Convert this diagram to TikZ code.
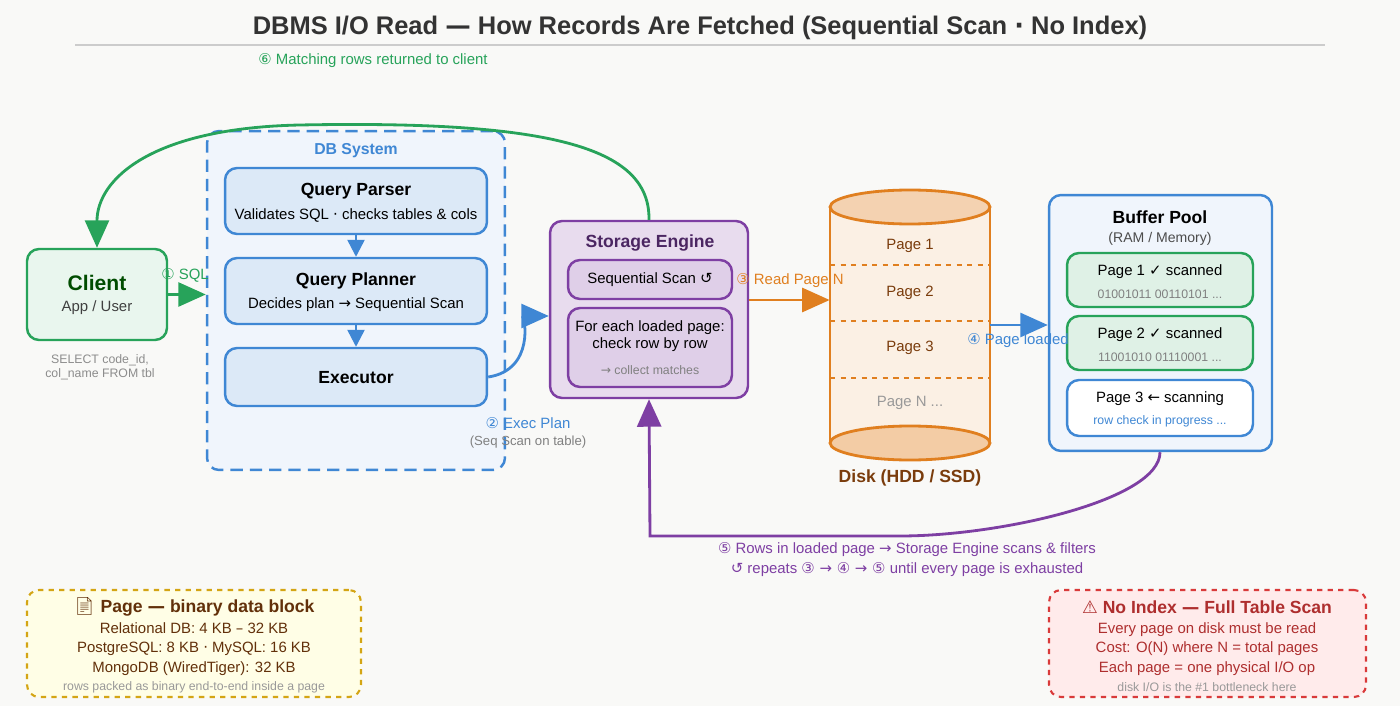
\documentclass[tikz,border=0pt]{standalone}
\usepackage{fontspec}
\setmainfont{Liberation Sans}
\newfontfamily\symf{DejaVu Sans}
\newfontfamily\emojif{Noto Emoji}
\usetikzlibrary{arrows.meta,positioning}
\definecolor{bgc}{HTML}{F9F9F7}
\definecolor{grn}{HTML}{27A35A}
\definecolor{blu}{HTML}{3F87D4}
\definecolor{pur}{HTML}{7E3FA3}
\definecolor{org}{HTML}{E07F1F}
\definecolor{brn}{HTML}{7A3C0C}
\definecolor{ylw}{HTML}{D4A514}
\definecolor{redc}{HTML}{D93A3A}
\tikzset{
  box/.style={rectangle, rounded corners=0.24cm, line width=1.4pt},
  bluebox/.style={box, draw=blu, fill=blu!18},
  purbox/.style={box, draw=pur, fill=pur!18},
  pagebox/.style={box, draw=grn, fill=grn!15, minimum width=3.72cm},
  bigtri/.style={-{Triangle[length=0.55cm,width=0.48cm]}, line width=1.6pt},
  midtri/.style={-{Triangle[length=0.34cm,width=0.34cm]}, line width=1.4pt},
  small/.style={font=\fontsize{7}{8}\selectfont},
  txt/.style={font=\fontsize{8.5}{10}\selectfont},
  hd/.style={font=\fontsize{10}{12}\selectfont\bfseries},
}
\begin{document}
\begin{tikzpicture}[x=0.02cm, y=-0.02cm, inner sep=0]
  \fill[bgc] (0,0) rectangle (1400,706);
  \node[font=\fontsize{14.5}{16}\selectfont\bfseries, text=black!80] (title) at (700,28) {DBMS I/O Read {\symf —} How Records Are Fetched (Sequential Scan {\symf ·} No Index)};
  \draw[black!20, line width=0.6pt] (75,45) -- (1325,45);

  % client
  \node[box, draw=grn, fill=grn!10, minimum width=2.8cm, minimum height=1.82cm] (client) at (97,294.5) {};
  \node[hd, text=green!30!black, font=\fontsize{12}{14}\selectfont\bfseries] (clientt) at (97,283) {Client};
  \node[txt, text=black!75] (clients) at (97,308) {App / User};
  \node[small, text=black!45, align=center] (sql) at (100,367) {SELECT code\_id,\\col\_name FROM tbl};

  % db system
  \node[box, dashed, draw=blu, fill=blu!8, dash pattern=on 7pt off 4pt, minimum width=5.96cm, minimum height=6.78cm] (dbsys) at (356,300.5) {};
  \node[txt, text=blu, font=\fontsize{9}{10}\selectfont\bfseries] (dblbl) at (356,151) {DB System};
  \node[bluebox, minimum width=5.24cm, minimum height=1.32cm] (parser) at (356,201) {};
  \node[hd] at (356,191) {Query Parser};
  \node[txt] at (356,215) {Validates SQL {\symf ·} checks tables \& cols};
  \node[bluebox, minimum width=5.24cm, minimum height=1.32cm] (planner) at (356,291) {};
  \node[hd] at (356,281) {Query Planner};
  \node[txt] at (356,305) {Decides plan {\symf →} Sequential Scan};
  \node[bluebox, minimum width=5.24cm, minimum height=1.16cm] (executor) at (356,377) {};
  \node[hd] at (356,378) {Executor};
  \draw[midtri, blu] (parser) -- (planner);
  \draw[midtri, blu] (planner) -- (executor);

  % storage engine
  \node[purbox, minimum width=3.96cm, minimum height=3.54cm] (engine) at (649,309.5) {};
  \node[hd, text=pur!60!black] at (650,243) {Storage Engine};
  \node[purbox, fill=pur!25, minimum width=3.28cm, minimum height=0.78cm] (seqscan) at (650,279.5) {};
  \node[txt] at (650,280) {Sequential Scan {\symf ↺}};
  \node[purbox, fill=pur!25, minimum width=3.28cm, minimum height=1.58cm] (foreach) at (650,347.5) {};
  \node[txt, align=center] at (650,336) {For each loaded page:\\check row by row};
  \node[small, text=black!50] at (650,370) {{\symf →} collect matches};

  % disk
  \node[minimum width=3.2cm, minimum height=4.72cm] (disk) at (910,325) {};
  \fill[org!12] (830,207) rectangle (990,443);
  \draw[org, line width=1.6pt, fill=org!40!white] (910,443) ellipse (80 and 17);
  \draw[org, line width=1.6pt] (830,207) -- (830,443) (990,207) -- (990,443);
  \draw[org, line width=1.6pt, fill=org!35!white] (910,207) ellipse (80 and 17);
  \foreach \yy in {265,321,378} \draw[org, dashed, line width=0.8pt] (830,\yy) -- (990,\yy);
  \node[txt, text=brn] at (910,246) {Page 1};
  \node[txt, text=brn] at (910,293) {Page 2};
  \node[txt, text=brn] at (910,348) {Page 3};
  \node[txt, text=black!40] at (910,403) {Page N ...};
  \node[hd, text=brn] (disklbl) at (910,478) {Disk (HDD / SSD)};

  % buffer pool
  \node[box, draw=blu, fill=blu!8, minimum width=4.46cm, minimum height=5.12cm] (buffer) at (1160.5,323) {};
  \node[hd] at (1160,217) {Buffer Pool};
  \node[small, font=\fontsize{8}{9}\selectfont, text=black!70] at (1160,239) {(RAM / Memory)};
  \node[pagebox, minimum height=1.08cm] (bp1) at (1160,280) {};
  \node[txt] at (1160,272) {Page 1 {\symf ✓} scanned};
  \node[small, text=black!50] at (1160,294) {01001011 00110101 ...};
  \node[pagebox, minimum height=1.08cm] (bp2) at (1160,343) {};
  \node[txt] at (1160,335) {Page 2 {\symf ✓} scanned};
  \node[small, text=black!50] at (1160,357) {11001010 01110001 ...};
  \node[box, draw=blu, fill=white, minimum width=3.72cm, minimum height=1.12cm] (bp3) at (1160,408) {};
  \node[txt] at (1160,399) {Page 3 {\symf ←} scanning};
  \node[small, text=blu] at (1160,421) {row check in progress ...};

  % flows
  \draw[bigtri, grn] (client.east) -- (dbsys.west |- client.east);
  \node[txt, text=grn] at (185,275) {{\symf ①} SQL};
  \coordinate (execin) at (engine.west |- 0,316);
  \draw[bigtri, blu] (executor.east) .. controls (535,370) and (525,316) .. (execin);
  \node[txt, text=blu] at (528,423) {{\symf ②} Exec Plan};
  \node[small, font=\fontsize{7.5}{9}\selectfont, text=black!50] at (528,442) {(Seq Scan on table)};
  \draw[bigtri, org] (engine.east |- 0,300) -- (disk.west |- 0,300);
  \node[txt, text=org] at (790,281) {{\symf ③} Read Page N};
  \draw[bigtri, blu] (disk.east |- 0,325) -- (buffer.west |- 0,325);
  \node[txt, text=blu] at (1018,341) {{\symf ④} Page loaded};
  \draw[bigtri, pur] (buffer.south -| 1160,0) .. controls (1160,500) and (1000,536) .. (900,536) -- (650,536) -- (engine.south);
  \node[txt, text=pur] at (907,550) {{\symf ⑤} Rows in loaded page {\symf →} Storage Engine scans \& filters};
  \node[txt, text=pur] at (907,570) {{\symf ↺} repeats {\symf ③ → ④ → ⑤} until every page is exhausted};
  \draw[bigtri, grn] (engine.north) .. controls (650,150) and (560,120) .. (300,125) .. controls (150,128) and (97,180) .. (client.north);
  \node[txt, text=grn] at (373,61) {{\symf ⑥} Matching rows returned to client};

  % legends
  \node[box, dashed, draw=ylw, fill=yellow!10, line width=1.2pt, minimum width=6.68cm, minimum height=2.14cm] (pagenote) at (194,643.5) {};
  \node[hd, text=brn!80!black] at (194,607) {{\emojif 📄} Page {\symf —} binary data block};
  \node[txt, text=brn!80!black, align=center, font=\fontsize{8.5}{11.2}\selectfont] at (194,649) {Relational DB: 4 KB {\symf –} 32 KB\\PostgreSQL: 8 KB {\symf ·} MySQL: 16 KB\\MongoDB (WiredTiger): 32 KB};
  \node[small, text=black!40] at (194,687) {rows packed as binary end-to-end inside a page};
  \node[box, dashed, draw=redc, fill=red!8, line width=1.2pt, minimum width=6.34cm, minimum height=2.14cm] (indexnote) at (1207.5,643.5) {};
  \node[hd, text=redc!80!black] at (1207,607) {{\symf ⚠} No Index {\symf —} Full Table Scan};
  \node[txt, text=redc!80!black, align=center, font=\fontsize{8.5}{11.2}\selectfont] at (1207,649) {Every page on disk must be read\\Cost: O(N) where N = total pages\\Each page = one physical I/O op};
  \node[small, text=black!40] at (1207,687) {disk I/O is the \#1 bottleneck here};
\end{tikzpicture}
\end{document}
